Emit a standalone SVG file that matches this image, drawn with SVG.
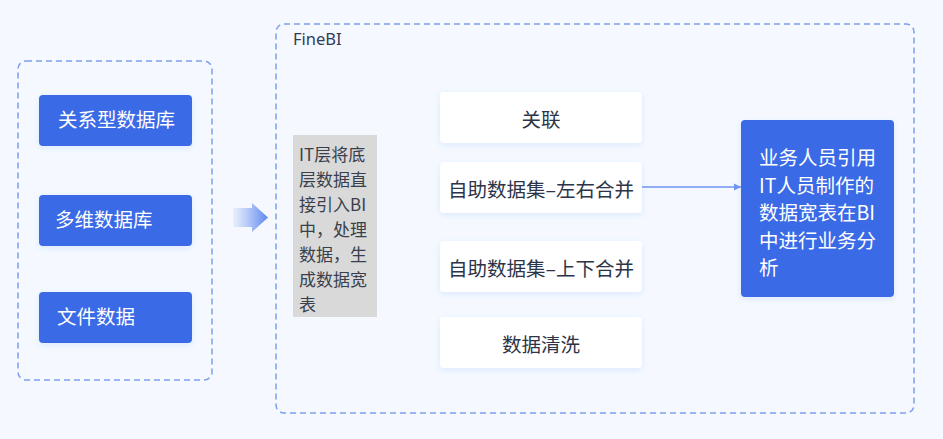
<svg xmlns="http://www.w3.org/2000/svg" width="943" height="439" viewBox="0 0 943 439">
  <defs>
    <style>
      .dash { fill: none; stroke: #7d9ff0; stroke-width: 1.5; stroke-dasharray: 6 4; }
      .blue { fill: #3a6be6; }
      .white { fill: #ffffff; }
      .wt { font-family: "Noto Sans CJK SC", "Noto Sans", sans-serif; font-size: 19.5px; fill: #ffffff; }
      .dt { font-family: "Noto Sans CJK SC", "Noto Sans", sans-serif; font-size: 19.5px; fill: #2c3447; text-anchor: middle; }
      .gt { font-family: "Noto Sans CJK SC", "Noto Sans", sans-serif; font-size: 17px; fill: #3a3f4c; }
    </style>
    <filter id="sh" x="-20%" y="-30%" width="140%" height="160%">
      <feDropShadow dx="0" dy="2" stdDeviation="3" flood-color="#3a6be6" flood-opacity="0.12"/>
    </filter>
    <linearGradient id="ag" x1="0" y1="0" x2="1" y2="0">
      <stop offset="0" stop-color="#7d9ff0" stop-opacity="0.1"/>
      <stop offset="1" stop-color="#5b86ee"/>
    </linearGradient>
    <marker id="arr" markerWidth="8" markerHeight="8" refX="7" refY="4" orient="auto" markerUnits="userSpaceOnUse">
      <path d="M0,0.5 L7,4 L0,7.5 Z" fill="#6f95f0"/>
    </marker>
  </defs>
  <rect width="943" height="439" fill="#f5f9ff"/>

  <g id="sources">
    <rect class="dash" x="18" y="61" width="194" height="319" rx="8"/>
    <g id="n-rdb">
      <rect class="blue" x="39" y="95" width="153" height="51" rx="4" filter="url(#sh)"/>
      <text class="wt" x="58" y="127">关系型数据库</text>
    </g>
    <g id="n-mdb">
      <rect class="blue" x="39" y="195" width="153" height="51" rx="4" filter="url(#sh)"/>
      <text class="wt" x="55" y="227">多维数据库</text>
    </g>
    <g id="n-file">
      <rect class="blue" x="39" y="292" width="153" height="51" rx="4" filter="url(#sh)"/>
      <text class="wt" x="57" y="324">文件数据</text>
    </g>
  </g>

  <g id="big-arrow">
    <path d="M233,208 L252,208 L252,203 L268,217.5 L252,232 L252,227 L233,227 Z" fill="url(#ag)"/>
  </g>

  <g id="finebi">
    <rect class="dash" x="276" y="24" width="638" height="389" rx="8"/>
    <text x="293" y="45" font-family="Noto Sans, sans-serif" font-size="16.5" fill="#333d55">FineBI</text>
  </g>

  <g id="n-it">
    <rect x="293" y="135" width="84" height="182" fill="#d9d9d9"/>
    <text class="gt">
      <tspan x="299" y="161">IT层将底</tspan>
      <tspan x="299" y="186">层数据直</tspan>
      <tspan x="299" y="211">接引入BI</tspan>
      <tspan x="299" y="236">中，处理</tspan>
      <tspan x="299" y="261">数据，生</tspan>
      <tspan x="299" y="286">成数据宽</tspan>
      <tspan x="299" y="311">表</tspan>
    </text>
  </g>

  <g id="n-link">
    <rect class="white" x="440" y="92" width="202" height="51" rx="4" filter="url(#sh)"/>
    <text class="dt" x="541" y="127">关联</text>
  </g>
  <g id="n-lr">
    <rect class="white" x="440" y="162" width="202" height="51" rx="4" filter="url(#sh)"/>
    <text class="dt" x="541" y="197">自助数据集–左右合并</text>
  </g>
  <g id="n-ud">
    <rect class="white" x="440" y="241" width="202" height="51" rx="4" filter="url(#sh)"/>
    <text class="dt" x="541" y="276">自助数据集–上下合并</text>
  </g>
  <g id="n-clean">
    <rect class="white" x="440" y="317" width="202" height="51" rx="4" filter="url(#sh)"/>
    <text class="dt" x="541" y="352">数据清洗</text>
  </g>

  <g id="n-biz">
    <rect class="blue" x="741" y="120" width="153" height="177" rx="4" filter="url(#sh)"/>
    <text class="wt">
      <tspan x="759" y="165">业务人员引用</tspan>
      <tspan x="759" y="192.5">IT人员制作的</tspan>
      <tspan x="759" y="220">数据宽表在BI</tspan>
      <tspan x="759" y="247.5">中进行业务分</tspan>
      <tspan x="759" y="275">析</tspan>
    </text>
  </g>

  <g id="connectors">
    <line x1="642" y1="187" x2="741" y2="187" stroke="#6f95f0" stroke-width="1.5" marker-end="url(#arr)"/>
  </g>
</svg>
